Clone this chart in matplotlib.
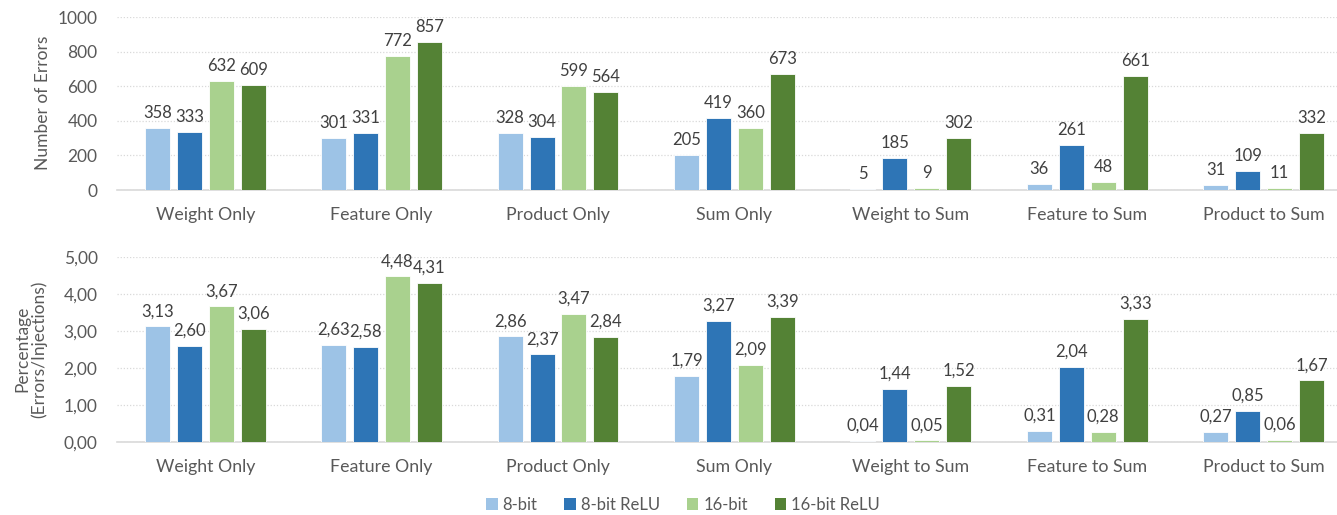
import matplotlib
matplotlib.use("Agg")
import matplotlib.pyplot as plt
from matplotlib.patches import Patch
import numpy as np

plt.rcParams['font.family'] = ['Lato', 'DejaVu Sans']

categories = ["Weight Only", "Feature Only", "Product Only", "Sum Only",
              "Weight to Sum", "Feature to Sum", "Product to Sum"]
series = ["8-bit", "8-bit ReLU", "16-bit", "16-bit ReLU"]
colors = ["#9DC3E6", "#2E75B6", "#A9D18E", "#548235"]

errors = {
    "8-bit":       [358, 301, 328, 205, 5, 36, 31],
    "8-bit ReLU":  [333, 331, 304, 419, 185, 261, 109],
    "16-bit":      [632, 772, 599, 360, 9, 48, 11],
    "16-bit ReLU": [609, 857, 564, 673, 302, 661, 332],
}
percent = {
    "8-bit":       [3.13, 2.63, 2.86, 1.79, 0.04, 0.31, 0.27],
    "8-bit ReLU":  [2.60, 2.58, 2.37, 3.27, 1.44, 2.04, 0.85],
    "16-bit":      [3.67, 4.48, 3.47, 2.09, 0.05, 0.28, 0.06],
    "16-bit ReLU": [3.06, 4.31, 2.84, 3.39, 1.52, 3.33, 1.67],
}

W, H = 1337, 515
fig = plt.figure(figsize=(W / 100, H / 100), dpi=100)

text_color = "#595959"
grid_color = "#D9D9D9"

def px_axes(left, top, right, bottom):
    return fig.add_axes([left / W, 1 - bottom / H, (right - left) / W, (bottom - top) / H])

ax1 = px_axes(117, 17, 1337, 190)
ax2 = px_axes(117, 257, 1337, 442)

x = np.arange(len(categories))
pitch = 0.181
width = 0.142
offsets = (np.arange(len(series)) - 1.5) * pitch

fmt_int = lambda v: f"{int(round(v))}"
fmt_pct = lambda v: f"{v:.2f}".replace(".", ",")

def draw(ax, data, ymax, step, fmt):
    for i, s in enumerate(series):
        vals = data[s]
        bars = ax.bar(x + offsets[i], vals, width, color=colors[i],
                      edgecolor="white", linewidth=0.6, zorder=3)
        for b, v in zip(bars, vals):
            ax.annotate(fmt(v), (b.get_x() + b.get_width() / 2, v),
                        xytext=(0, 5), textcoords="offset points",
                        ha="center", va="bottom", fontsize=12,
                        color="#404040")
    ax.set_xlim(-0.5, 6.416)
    ax.set_ylim(0, ymax)
    ticks = np.arange(0, ymax + step / 2, step)
    ax.set_yticks(ticks)
    ax.set_yticklabels([fmt(t) for t in ticks])
    ax.yaxis.grid(True, color=grid_color, linestyle=(0, (1, 1.5)), linewidth=0.9, zorder=0)
    ax.set_axisbelow(True)
    for sp in ["top", "right", "left"]:
        ax.spines[sp].set_visible(False)
    ax.spines["bottom"].set_color(grid_color)
    ax.spines["bottom"].set_linewidth(1.2)
    ax.set_xticks(x)
    ax.set_xticklabels(categories, fontsize=12.8, color=text_color)
    ax.tick_params(axis="x", length=0, pad=12)
    ax.tick_params(axis="y", length=0, labelsize=12.5, labelcolor=text_color, pad=14)

draw(ax1, errors, 1000, 200, fmt_int)
draw(ax2, percent, 5.0, 1.0, fmt_pct)

fig.text(43 / W, 1 - 103 / H, "Number of Errors", rotation=90, ha="center", va="center",
         fontsize=12.5, color=text_color)
fig.text(31 / W, 1 - 349 / H, "Percentage\n(Errors/Injections)", rotation=90, ha="center",
         va="center", fontsize=12.5, color=text_color, linespacing=1.05)

handles = [Patch(facecolor=c, edgecolor="none") for c in colors]
fig.legend(handles, series, loc="center", bbox_to_anchor=(683 / W, 1 - 505 / H),
           ncol=4, frameon=False, fontsize=12, handlelength=0.7, handleheight=0.7,
           handletextpad=0.3, columnspacing=1.6, labelcolor=text_color)

fig.savefig("out.png", dpi=100)
